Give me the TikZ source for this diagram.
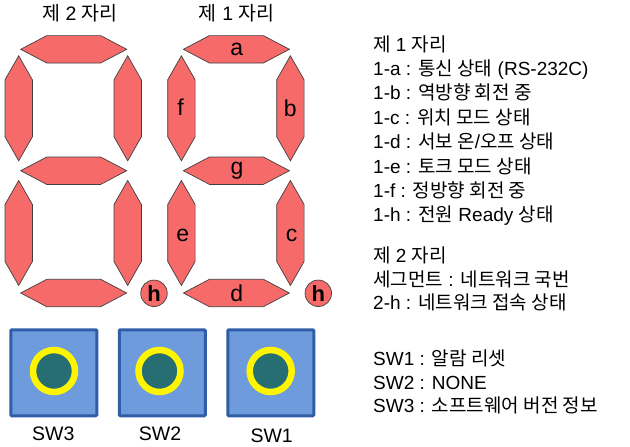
\documentclass[tikz,border=0pt]{standalone}
\usepackage{fontspec}
\setmainfont{Liberation Sans}
\newfontfamily\kr{Noto Sans CJK KR}
\definecolor{segred}{RGB}{246,106,106}
\definecolor{swfill}{RGB}{110,155,219}
\definecolor{swline}{RGB}{47,93,168}
\definecolor{knob}{RGB}{38,110,114}
\definecolor{ring}{RGB}{255,245,0}
\begin{document}
\begin{tikzpicture}[x=1pt,y=-1pt,
    seg/.style={draw=black!75,fill=segred,line width=0.7pt},
    letter/.style={inner sep=0pt,font=\fontsize{23}{23}\selectfont},
    dot/.style={circle,draw=black!75,fill=segred,line width=0.7pt,inner sep=0pt,
      minimum size=26.5pt,font=\fontsize{22}{22}\selectfont\bfseries},
    swbox/.style={rectangle,draw=swline,fill=swfill,line width=3pt,rounded corners=1pt,
      minimum size=86pt,inner sep=0pt},
    knobnode/.style={circle,draw=ring,fill=knob,line width=6.5pt,minimum size=42pt,inner sep=0pt},
    txt/.style={anchor=base west,inner sep=0pt,font=\fontsize{19}{19}\selectfont},
    headtext/.style={anchor=base,inner sep=0pt,font=\fontsize{19.5}{19.5}\selectfont}]
  \useasboundingbox (0,0) rectangle (630,447);
  % seven segment digits (second and first place)
  \foreach \dx in {0,162.7} {
    \foreach \y in {49.3,170.7,293}
      \draw[seg,shift={(73.7+\dx,\y)}] (-53,0) -- (-27,-13.7) -- (27,-13.7)
        -- (53,0) -- (27,13.7) -- (-27,13.7) -- cycle;
    \foreach \x/\y in {18.7/108.3,127.7/108.3,18.7/233,127.7/233}
      \draw[seg,shift={(\x+\dx,\y)}] (0,-52.5) -- (13.7,-28.5) -- (13.7,28.5)
        -- (0,52.5) -- (-13.7,28.5) -- (-13.7,-28.5) -- cycle;
  }
  \node[headtext] (title2) at (80,20.5) {{\kr 제} 2 {\kr 자리}};
  \node[headtext] (title1) at (236.7,20.5) {{\kr 제} 1 {\kr 자리}};
  \node[letter] (sega) at (236.7,49.3) {a};
  \node[letter] (segb) at (290.3,108) {b};
  \node[letter] (segc) at (291.5,235.7) {c};
  \node[letter] (segd) at (236.7,293) {d};
  \node[letter] (sege) at (182.7,235.7) {e};
  \node[letter] (segf) at (180.5,106.7) {f};
  \node[letter] (segg) at (237,170.7) {g};
  \node[dot] (dot2) at (154,293.3) {h};
  \node[dot] (dot1) at (318.3,293.3) {h};
  % switches
  \node[swbox] (sw3) at (53.8,372.8) {};
  \node[swbox] (sw2) at (162.3,372.8) {};
  \node[swbox] (sw1) at (270.8,372.8) {};
  \node[knobnode] (knob3) at (54,371) {};
  \node[knobnode] (knob2) at (159.5,371) {};
  \node[knobnode] (knob1) at (270.7,371) {};
  \node[headtext] (lab3) at (53.3,440.5) {SW3};
  \node[headtext] (lab2) at (160,440.5) {SW2};
  \node[headtext] (lab1) at (271.7,442) {SW1};
  % legend
  \node[txt] (l1) at (373,51) {{\kr 제} 1 {\kr 자리}};
  \node[txt] (l1a) at (373,75.4) {1-a : {\kr 통신 상태} (RS-232C)};
  \node[txt] (l1b) at (373,99.8) {1-b : {\kr 역방향 회전 중}};
  \node[txt] (l1c) at (373,124.2) {1-c : {\kr 위치 모드 상태}};
  \node[txt] (l1d) at (373,148.6) {1-d : {\kr 서보 온}/{\kr 오프 상태}};
  \node[txt] (l1e) at (373,173) {1-e : {\kr 토크 모드 상태}};
  \node[txt] (l1f) at (373,197.4) {1-f : {\kr 정방향 회전 중}};
  \node[txt] (l1h) at (373,221.8) {1-h : {\kr 전원} Ready {\kr 상태}};
  \node[txt] (l2) at (373,262) {{\kr 제} 2 {\kr 자리}};
  \node[txt] (l2s) at (373,286) {{\kr 세그먼트} : {\kr 네트워크 국번}};
  \node[txt] (l2h) at (373,309) {2-h : {\kr 네트워크 접속 상태}};
  \node[txt] (lsw1) at (373,365) {SW1 : {\kr 알람 리셋}};
  \node[txt] (lsw2) at (373,389) {SW2 : NONE};
  \node[txt] (lsw3) at (373,412) {SW3 : {\kr 소프트웨어 버전 정보}};
\end{tikzpicture}
\end{document}
